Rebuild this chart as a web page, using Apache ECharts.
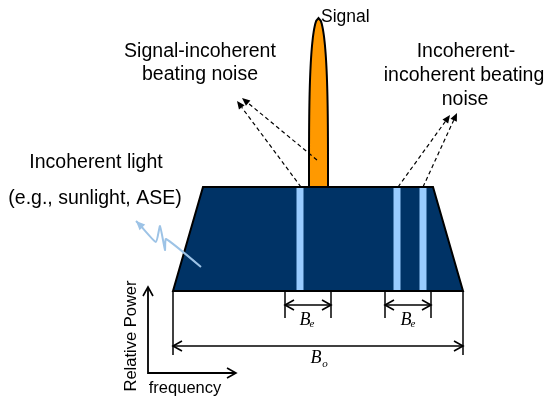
<!DOCTYPE html>
<html><head><meta charset="utf-8">
<script src="https://cdn.jsdelivr.net/npm/echarts@6/dist/echarts.min.js"></script>
<style>html,body{margin:0;padding:0;background:#fff}#c{width:546px;height:400px}</style>
</head><body><div id="c"></div>
<script>
// Diagram data (frequency units on x, level units on y, y grows downward)
const bandCorners = [[173,291],[203,187],[433,187],[463,291]];
const filterFreqs = [300, 397, 423];
const filterHalfWidth = 3.5;
const floorLevel = 187, baseLevel = 291;
const signalFreq = 318.5, signalHalfWidth = 9.5, signalPeak = 18;
const beSpans = [[285,331],[385,431]];
const boSpan = [173,463];
const dashedArrows = [[[317,160],[242,98]],[[301,187],[237,101]],[[398,187],[450,115]],[[423,187],[457,113]]];
const squiggle = [[201,267],[166,239],[165,250],[160,226],[156,242],[140,225]];
const squiggleTip = [136,221];
const axisOrigin = [148,373], axisTopY = 287, axisRightX = 236;
const labels = [
  {t:'Signal', p:[321,17], a:'left', f:17.5},
  {t:'Signal-incoherent', p:[200,52]},
  {t:'beating noise', p:[200,75]},
  {t:'Incoherent-', p:[466,52]},
  {t:'incoherent beating', p:[464,76]},
  {t:'noise', p:[465,100]},
  {t:'Incoherent light', p:[96,163]},
  {t:'(e.g., sunlight, ASE)', p:[95,199]},
  {t:'frequency', p:[185,388], f:16.5}
];
const yLabel = {t:'Relative Power', p:[131,336]};
const bLabels = [
  {main:'B', sub:'e', p:[305,320], s:[312,324]},
  {main:'B', sub:'e', p:[406,320], s:[413,324]},
  {main:'B', sub:'o', p:[316,358], s:[325,364]}
];

const chart = echarts.init(document.getElementById('c'));
const fam = '"Liberation Sans", Arial, sans-serif';

function render(params, api) {
  const c = (x,y) => api.coord([x,y]);
  const kids = [];
  function openHead(tip, from, len, hw) {
    const dx = tip[0]-from[0], dy = tip[1]-from[1], L = Math.hypot(dx,dy);
    const ux = dx/L, uy = dy/L;
    return [[tip[0]-ux*len-uy*hw, tip[1]-uy*len+ux*hw], tip, [tip[0]-ux*len+uy*hw, tip[1]-uy*len-ux*hw]];
  }
  function line(a, b, w, dash) {
    kids.push({type:'line', shape:{x1:a[0],y1:a[1],x2:b[0],y2:b[1]}, style:{stroke:'#000', lineWidth:w||1.5, lineDash:dash||null}});
  }
  function chevron(tip, from) {
    kids.push({type:'polyline', shape:{points:openHead(tip, from, 9, 5)}, style:{stroke:'#000', lineWidth:1.6, fill:null}});
  }
  function dblArrow(a, b) {
    line(a, b, 1.5);
    chevron(a, b); chevron(b, a);
  }
  const trap = bandCorners.map(p => c(p[0], p[1]));
  kids.push({type:'polygon', shape:{points:trap}, style:{fill:'#003366'}});
  filterFreqs.forEach(f => {
    const a = c(f-filterHalfWidth, floorLevel), b = c(f+filterHalfWidth, baseLevel);
    kids.push({type:'rect', shape:{x:a[0], y:a[1], width:b[0]-a[0], height:b[1]-a[1]}, style:{fill:'#99ccff'}});
  });
  const sp = [];
  const N = 60;
  for (let i=0;i<=N;i++){ const t=i/N; const hw=signalHalfWidth*Math.pow(1-Math.pow(t,3.5),0.5); sp.push(c(signalFreq-hw, floorLevel-t*(floorLevel-signalPeak))); }
  for (let i=N;i>=0;i--){ const t=i/N; const hw=signalHalfWidth*Math.pow(1-Math.pow(t,3.5),0.5); sp.push(c(signalFreq+hw, floorLevel-t*(floorLevel-signalPeak))); }
  kids.push({type:'polygon', shape:{points:sp}, style:{fill:'#ff9900', stroke:'#000', lineWidth:2}});
  kids.push({type:'polygon', shape:{points:trap}, style:{fill:null, stroke:'#000', lineWidth:2}});
  dashedArrows.forEach(([s,e]) => {
    const a = c(s[0],s[1]), b = c(e[0],e[1]);
    const h = openHead(b, a, 8, 3.5);
    const base = [(h[0][0]+h[2][0])/2, (h[0][1]+h[2][1])/2];
    line(a, base, 1.2, [4,3]);
    kids.push({type:'polygon', shape:{points:h}, style:{fill:'#000'}});
  });
  const sq = squiggle.map(p => c(p[0],p[1]));
  const tip = c(squiggleTip[0], squiggleTip[1]);
  sq.push(tip);
  kids.push({type:'polyline', shape:{points:sq, smooth:0.15}, style:{stroke:'#9dc3e6', lineWidth:2, fill:null}});
  kids.push({type:'polygon', shape:{points:openHead(tip, sq[sq.length-2], 9, 4)}, style:{fill:'#9dc3e6'}});
  beSpans.forEach(([x1,x2]) => {
    line(c(x1,baseLevel), c(x1,318)); line(c(x2,baseLevel), c(x2,318));
    dblArrow(c(x1,305), c(x2,305));
  });
  line(c(boSpan[0],baseLevel), c(boSpan[0],355)); line(c(boSpan[1],baseLevel), c(boSpan[1],355));
  dblArrow(c(boSpan[0],346), c(boSpan[1],346));
  const o = c(axisOrigin[0], axisOrigin[1]);
  const top = c(axisOrigin[0], axisTopY), right = c(axisRightX, axisOrigin[1]);
  kids.push({type:'polyline', shape:{points:[top, o, right]}, style:{stroke:'#000', lineWidth:1.8, fill:null}});
  chevron(top, o); chevron(right, o);
  labels.forEach(l => {
    const p = c(l.p[0], l.p[1]);
    kids.push({type:'text', x:p[0], y:p[1], style:{text:l.t, font:(l.f||19.5)+'px '+fam, fill:'#000', align:l.a||'center', verticalAlign:'middle'}});
  });
  const yp = c(yLabel.p[0], yLabel.p[1]);
  kids.push({type:'text', x:yp[0], y:yp[1], rotation:Math.PI/2, style:{text:yLabel.t, font:'16.5px '+fam, fill:'#000', align:'center', verticalAlign:'middle'}});
  bLabels.forEach(b => {
    const p = c(b.p[0], b.p[1]), s = c(b.s[0], b.s[1]);
    kids.push({type:'text', x:p[0], y:p[1], style:{text:b.main, font:'italic 18px "Liberation Serif", serif', fill:'#000', align:'center', verticalAlign:'middle'}});
    kids.push({type:'text', x:s[0], y:s[1], style:{text:b.sub, font:'italic 11px "Liberation Serif", serif', fill:'#000', align:'center', verticalAlign:'middle'}});
  });
  return {type:'group', children:kids};
}

chart.setOption({
  animation:false,
  grid:{left:0,right:0,top:0,bottom:0},
  xAxis:{type:'value', min:0, max:546, show:false},
  yAxis:{type:'value', min:0, max:400, inverse:true, show:false},
  series:[{type:'custom', renderItem:render, data:[[0,0]], clip:false, silent:true}]
});
</script></body></html>
